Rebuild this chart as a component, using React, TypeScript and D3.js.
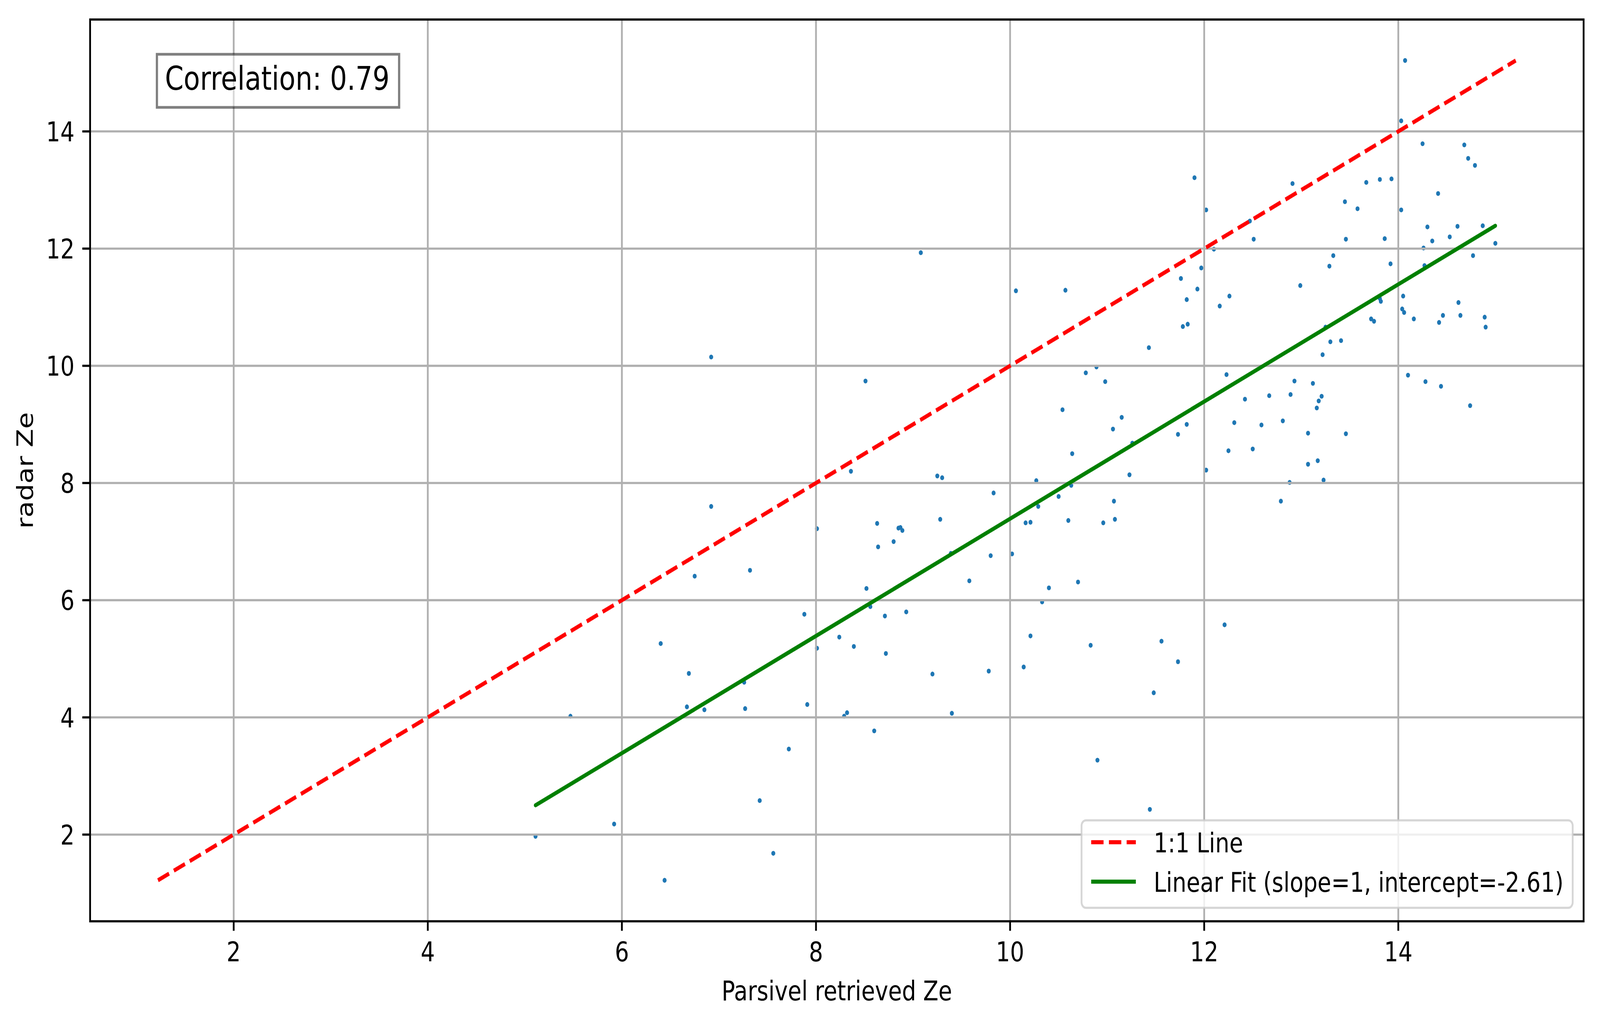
import React from 'react';
import * as d3 from 'd3';

// Parsivel retrieved Ze (x) and radar Ze (y)
const parsivelZe = [
  6.92, 6.75, 7.32, 7.88, 6.40, 6.69, 7.26, 6.67, 6.85, 7.27, 5.47, 7.72, 7.42, 5.92, 5.11, 7.56, 6.44, 6.92,
  8.36, 9.25, 9.30, 10.27, 9.83, 8.01, 8.63, 9.28, 8.85, 8.87, 8.89, 8.64, 8.80, 10.16, 10.21, 10.29, 10.50, 9.39,
  10.02, 9.80, 9.58, 8.52, 10.40, 8.56, 10.33, 8.71, 8.93, 8.24, 8.01, 8.39, 8.72, 10.21, 9.20, 9.78, 10.14, 7.91,
  8.29, 8.32, 9.40, 8.60,
  10.63, 11.23, 12.02, 11.07, 10.60, 10.96, 11.08, 12.79, 10.70, 12.21, 10.83, 11.56, 11.73, 11.48, 10.90, 11.44,
  13.07, 13.17, 13.23, 12.88,
  9.08, 10.06, 10.57, 8.51, 10.78, 10.89, 10.98, 10.54, 11.15, 11.06, 10.64,
  11.90, 12.02, 12.47, 12.51, 12.91, 12.10, 11.97, 11.76, 11.93, 11.82, 12.26, 12.16, 12.99, 11.78, 11.83, 11.43,
  12.23, 12.93, 13.12, 12.67, 12.89, 12.42, 12.31, 12.59, 12.81, 13.07, 11.82, 11.73, 11.26, 12.25, 12.50,
  14.07, 14.03, 14.25, 14.68, 14.72, 14.79, 13.67, 13.81, 13.93, 13.45, 13.58, 14.41, 14.03, 14.30, 14.61, 14.87,
  13.46, 13.86, 14.35, 14.53, 14.26, 15.00, 13.33, 13.29, 13.92, 14.27, 14.77, 14.05, 13.81, 13.82, 14.04, 14.06,
  13.72, 13.75, 14.16, 14.42, 14.46, 14.62, 14.64, 14.89, 14.90, 13.25, 13.30, 13.41, 13.22, 14.10, 14.28, 14.44,
  14.74, 13.21, 13.18, 13.16, 13.46,
];

const radarZe = [
  7.60, 6.41, 6.51, 5.76, 5.26, 4.75, 4.60, 4.18, 4.13, 4.15, 4.02, 3.46, 2.58, 2.18, 1.97, 1.68, 1.22, 10.15,
  8.20, 8.12, 8.09, 8.04, 7.83, 7.22, 7.31, 7.38, 7.23, 7.24, 7.19, 6.91, 7.00, 7.32, 7.33, 7.60, 7.77, 6.80,
  6.79, 6.76, 6.33, 6.20, 6.21, 5.89, 5.97, 5.73, 5.80, 5.37, 5.18, 5.21, 5.09, 5.39, 4.74, 4.79, 4.86, 4.22,
  4.02, 4.08, 4.07, 3.77,
  7.96, 8.14, 8.22, 7.69, 7.36, 7.32, 7.38, 7.69, 6.31, 5.58, 5.23, 5.30, 4.95, 4.42, 3.27, 2.43,
  8.32, 8.38, 8.05, 8.01,
  11.93, 11.28, 11.29, 9.74, 9.88, 9.98, 9.73, 9.25, 9.12, 8.92, 8.50,
  13.21, 12.66, 12.47, 12.16, 13.11, 11.99, 11.67, 11.49, 11.31, 11.13, 11.19, 11.02, 11.37, 10.67, 10.71, 10.31,
  9.85, 9.74, 9.70, 9.49, 9.51, 9.43, 9.03, 8.99, 9.06, 8.85, 9.00, 8.83, 8.68, 8.55, 8.58,
  15.21, 14.18, 13.79, 13.77, 13.54, 13.42, 13.13, 13.18, 13.19, 12.80, 12.68, 12.94, 12.66, 12.37, 12.38, 12.39,
  12.16, 12.17, 12.13, 12.20, 12.01, 12.09, 11.88, 11.70, 11.74, 11.71, 11.88, 11.19, 11.15, 11.10, 10.97, 10.91,
  10.80, 10.76, 10.80, 10.74, 10.86, 11.08, 10.86, 10.83, 10.66, 10.66, 10.41, 10.43, 10.19, 9.84, 9.73, 9.65,
  9.32, 9.48, 9.40, 9.28, 8.84,
];

const xTicks = [2, 4, 6, 8, 10, 12, 14];
const yTicks = [2, 4, 6, 8, 10, 12, 14];

const fitSlope = 1.0;
const fitIntercept = -2.61;
const correlationText = 'Correlation: 0.79';
const legendLabels = ['1:1 Line', 'Linear Fit (slope=1, intercept=-2.61)'];

const W = 4981;
const H = 2620;
const margin = { left: 280.5, top: 50, right: 51, bottom: 260.5 };
const font = '"DejaVu Sans", sans-serif';
const lw = 10.4; // 1.5pt at 500 dpi
const thin = 5.6; // 0.8pt

const App: React.FC = () => {
  const points = parsivelZe.map((x, i) => ({ x, y: radarZe[i] }));

  // 1:1 line spans min..max of both variables, axes get matplotlib's 5% margin
  const lo = Math.min(d3.min(parsivelZe)!, d3.min(radarZe)!);
  const hi = Math.max(d3.max(parsivelZe)!, d3.max(radarZe)!);
  const pad = (hi - lo) * 0.05;

  const x = d3.scaleLinear()
    .domain([lo - pad, hi + pad])
    .range([margin.left, W - margin.right]);
  const y = d3.scaleLinear()
    .domain([lo - pad, hi + pad])
    .range([H - margin.bottom, margin.top]);

  const line = d3.line<[number, number]>()
    .x(d => x(d[0]))
    .y(d => y(d[1]));

  const oneToOne: [number, number][] = [[lo, lo], [hi, hi]];
  const xMin = d3.min(parsivelZe)!;
  const xMax = d3.max(parsivelZe)!;
  const fitLine: [number, number][] = [
    [xMin, fitSlope * xMin + fitIntercept],
    [xMax, fitSlope * xMax + fitIntercept],
  ];

  const [x0, x1] = x.range();
  const [y0, y1] = y.range();

  return (
    // fill the viewport whatever size it really is
    <div style={{ position: 'fixed', left: 0, top: 0, width: '100vw', height: '100vh', background: '#fff' }}>
      <svg viewBox={`0 0 ${W} ${H}`} width="100%" height="100%" preserveAspectRatio="none"
        style={{ display: 'block' }}>
        {/* scatter */}
        <g>
          {points.map((p, i) => (
            <circle key={i} cx={x(p.x)} cy={y(p.y)} r={6.2} fill="#1f77b4" />
          ))}
        </g>

        {/* grid */}
        <g stroke="#b0b0b0" strokeWidth={thin}>
          {xTicks.map(t => (
            <line key={'gx' + t} x1={x(t)} x2={x(t)} y1={y0} y2={y1} />
          ))}
          {yTicks.map(t => (
            <line key={'gy' + t} x1={x0} x2={x1} y1={y(t)} y2={y(t)} />
          ))}
        </g>

        {/* 1:1 and fit lines */}
        <path d={line(oneToOne)!} fill="none" stroke="red" strokeWidth={lw}
          strokeDasharray="38.5 16.7" />
        <path d={line(fitLine)!} fill="none" stroke="green" strokeWidth={lw}
          strokeLinecap="round" />

        {/* correlation box */}
        <rect x={488.5} y={139} width={754} height={136} fill="#fff" fillOpacity={0.5}
          stroke="#000" strokeOpacity={0.5} strokeWidth={6.9} />
        <text x={513.5} y={229.6} fontFamily={font} fontSize={83.3} fill="#000">
          {correlationText}
        </text>

        {/* legend */}
        <g>
          <rect x={3367} y={2101} width={1529} height={224} rx={14} ry={14}
            fill="#fff" fillOpacity={0.8} stroke="#cccccc" strokeOpacity={0.8} strokeWidth={thin} />
          <line x1={3397} x2={3536} y1={2157} y2={2157} stroke="red" strokeWidth={lw}
            strokeDasharray="38.5 16.7" />
          <line x1={3397} x2={3536} y1={2258} y2={2258} stroke="green" strokeWidth={lw} />
          <text x={3591.5} y={2183} fontFamily={font} fontSize={69.4} fill="#000">{legendLabels[0]}</text>
          <text x={3591.5} y={2284} fontFamily={font} fontSize={69.4} fill="#000">{legendLabels[1]}</text>
        </g>

        {/* spines */}
        <rect x={x0} y={y1} width={x1 - x0} height={y0 - y1} fill="none" stroke="#000" strokeWidth={thin} />

        {/* x axis ticks */}
        <g>
          {xTicks.map(t => (
            <g key={'xt' + t}>
              <line x1={x(t)} x2={x(t)} y1={y0} y2={y0 + 24.3} stroke="#000" strokeWidth={thin} />
              <text x={x(t)} y={2462} textAnchor="middle" fontFamily={font} fontSize={69.4} fill="#000">{t}</text>
            </g>
          ))}
        </g>

        {/* y axis ticks */}
        <g>
          {yTicks.map(t => (
            <g key={'yt' + t}>
              <line x1={x0 - 24.3} x2={x0} y1={y(t)} y2={y(t)} stroke="#000" strokeWidth={thin} />
              <text x={x0 - 48.6} y={y(t) + 25.3} textAnchor="end" fontFamily={font} fontSize={69.4} fill="#000">{t}</text>
            </g>
          ))}
        </g>

        {/* axis labels */}
        <text x={(x0 + x1) / 2} y={2562} textAnchor="middle" fontFamily={font} fontSize={69.4} fill="#000">
          Parsivel retrieved Ze
        </text>
        <text transform={`translate(101.7,${(y0 + y1) / 2}) rotate(-90)`} textAnchor="middle"
          fontFamily={font} fontSize={69.4} fill="#000">
          radar Ze
        </text>
      </svg>
    </div>
  );
};

export default App;
